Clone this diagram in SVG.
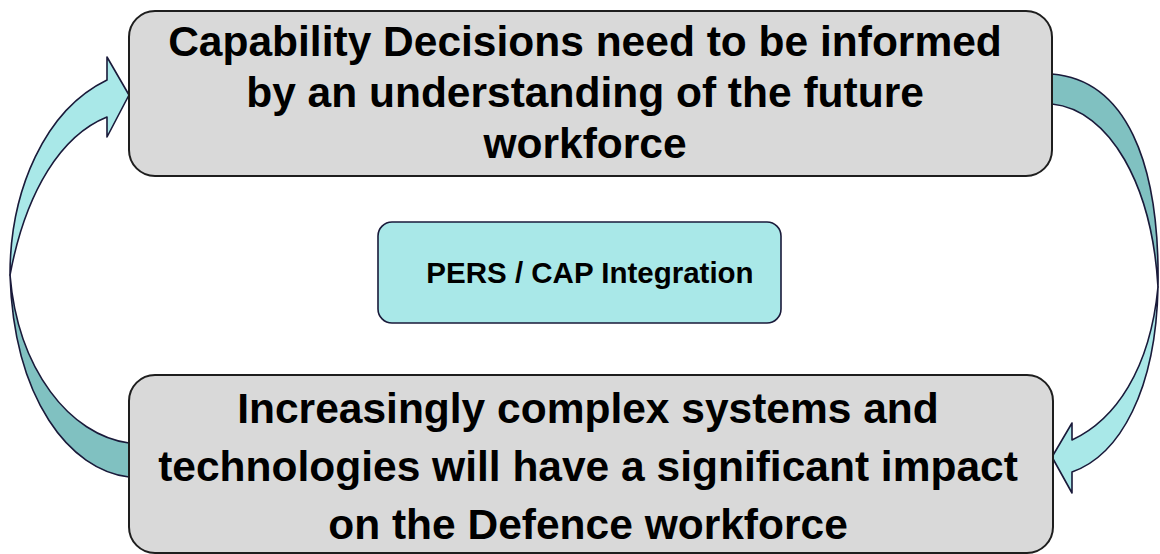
<svg xmlns="http://www.w3.org/2000/svg" width="1160" height="554" viewBox="0 0 1160 554">
  <style>
    .box { fill: #d9d9d9; stroke: #1e1e1e; stroke-width: 2; }
    .hub { fill: #a9e8e8; stroke: #1a1a3a; stroke-width: 1.6; }
    .big { font-family: "Liberation Sans", Arial, sans-serif; font-weight: bold; font-size: 42.5px; fill: #000; text-anchor: middle; }
    .mid { font-family: "Liberation Sans", Arial, sans-serif; font-weight: bold; font-size: 29.5px; fill: #000; text-anchor: middle; }
    .front { fill: #a9e8e8; stroke: #1a1a3a; stroke-width: 1.6; stroke-linejoin: round; }
    .back { fill: #80c1c1; stroke: #1a1a3a; stroke-width: 1.6; stroke-linejoin: round; }
  </style>

  <!-- curved arrows linking the two statements -->
  <g id="connectors">
    <!-- left arrow: from bottom box up to top box -->
    <path class="back" d="M 129,477 C 70,470 14,400 10,275 C 18,370 70,435 129,443 Z"/>
    <path class="front" d="M 10,275 C 10,190 45,110 107,80 L 107,57 L 129,95 L 107,137 L 107,117 C 62,135 26,190 10,275 Z"/>
    <!-- right arrow: from top box down to bottom box -->
    <path class="back" d="M 1052,74 C 1125,80 1160,160 1158,287 C 1152,185 1110,110 1052,104 Z"/>
    <path class="front" d="M 1158,287 C 1156,390 1120,455 1072,472 L 1072,493 L 1052,457 L 1072,423 L 1072,440 C 1115,420 1150,370 1158,287 Z"/>
  </g>

  <g id="node-capability">
    <rect class="box" x="129" y="11" width="923" height="165" rx="26" ry="26"/>
    <text class="big" x="585" y="56">Capability Decisions need to be informed</text>
    <text class="big" x="585" y="107">by an understanding of the future</text>
    <text class="big" x="585" y="158">workforce</text>
  </g>

  <g id="node-integration">
    <rect class="hub" x="378" y="222" width="403" height="101" rx="14" ry="14"/>
    <text class="mid" x="590" y="283">PERS / CAP Integration</text>
  </g>

  <g id="node-systems">
    <rect class="box" x="129" y="375" width="924" height="178" rx="26" ry="26"/>
    <text class="big" x="588" y="423">Increasingly complex systems and</text>
    <text class="big" x="588" y="481">technologies will have a significant impact</text>
    <text class="big" x="588" y="539">on the Defence workforce</text>
  </g>
</svg>
